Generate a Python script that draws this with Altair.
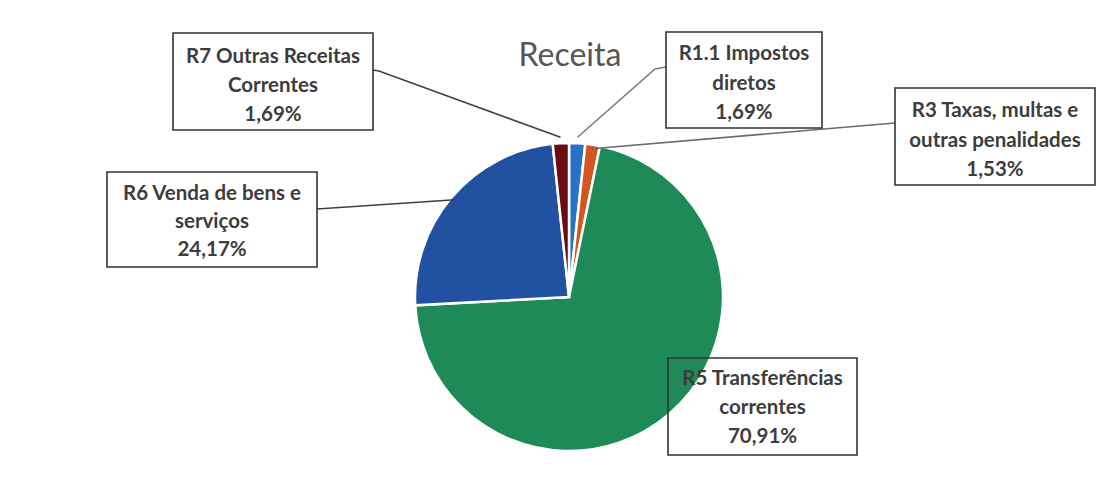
import altair as alt
import pandas as pd
import numpy as np

# ---------------- data ----------------
categories = [
    "R1.1 Impostos diretos",
    "R3 Taxas, multas e outras penalidades",
    "R5 Transferências correntes",
    "R6 Venda de bens e serviços",
    "R7 Outras Receitas Correntes",
]
values = [1.69, 1.53, 70.91, 24.17, 1.69]
label_lines = [
    ["R1.1 Impostos", "diretos"],
    ["R3 Taxas, multas e", "outras penalidades"],
    ["R5 Transferências", "correntes"],
    ["R6 Venda de bens e", "serviços"],
    ["R7 Outras Receitas", "Correntes"],
]
pct_labels = ["1,69%", "1,53%", "70,91%", "24,17%", "1,69%"]
colors = ["#2a72c6", "#d4561f", "#1d8a58", "#2152a2", "#6a0c12"]
title_text = "Receita"

# ---------------- layout (page pixel coordinates) ----------------
W, H = 1098, 485
OX, OY = 8, 8
PIE_CX, PIE_CY, PIE_R = 569, 297, 154
FONT = "Lato"
TXT_COLOR = "#3d3d3d"

# box: x0, y0, x1, y1 ; line centres ; leader start path ; leader end radius ; box fill opacity
layout = {
    categories[0]: dict(box=(666, 32, 822, 128), ly=(54, 84, 113), path=[(666, 67), (655, 69)], r=160, fo=1, lc="#7a7a7a"),
    categories[1]: dict(box=(895, 88, 1095, 185), ly=(111, 141, 170), path=[(895, 123)], r=150, fo=1, lc="#6a6a6a"),
    categories[2]: dict(box=(668, 358, 857, 455), ly=(379, 408, 437), path=[], r=0, fo=0, lc="#404040"),
    categories[3]: dict(box=(107, 172, 317, 267), ly=(194, 222, 250), path=[(317, 209)], r=150, fo=1, lc="#404040"),
    categories[4]: dict(box=(173, 33, 373, 130), ly=(57, 86, 115), path=[(373, 70), (379, 71)], r=160, fo=1, lc="#404040"),
}

# ---------------- tables ----------------
pie_df = pd.DataFrame({"category": categories, "value": values, "idx": range(len(categories))})

total = float(np.sum(values))
cum = np.cumsum(values)
mid = (cum - np.array(values) / 2.0) / total * 2 * np.pi

box_rows, text_rows, line_rows = [], [], []
for i, cat in enumerate(categories):
    L = layout[cat]
    x0, y0, x1, y1 = L["box"]
    box_rows.append(dict(category=cat, x0=x0, y0=y0, x1=x1, y1=y1, fo=L["fo"]))
    lines = label_lines[i] + [pct_labels[i]]
    for t, yy in zip(lines, L["ly"]):
        text_rows.append(dict(category=cat, t=t, x=(x0 + x1) / 2.0, y=yy))
    if L["path"]:
        pts = list(L["path"])
        ex = PIE_CX + L["r"] * np.sin(mid[i])
        ey = PIE_CY - L["r"] * np.cos(mid[i])
        pts.append((ex, ey))
        for k, (px, py) in enumerate(pts):
            line_rows.append(dict(category=cat, k=k, x=px, y=py, lc=L["lc"]))

box_df = pd.DataFrame(box_rows)
text_df = pd.DataFrame(text_rows)
line_df = pd.DataFrame(line_rows)

xs = alt.Scale(domain=[OX, OX + W], range=[0, W], nice=False, zero=False)
ys = alt.Scale(domain=[OY, OY + H], range=[0, H], nice=False, zero=False)

pie = alt.Chart(pie_df).mark_arc(radius=PIE_R, stroke="white", strokeWidth=2.5).encode(
    theta=alt.Theta("value:Q", stack=True),
    color=alt.Color("category:N", scale=alt.Scale(domain=categories, range=colors), legend=None),
    order=alt.Order("idx:Q"),
    x=alt.value(PIE_CX - OX),
    y=alt.value(PIE_CY - OY),
)

leaders = alt.Chart(line_df).mark_line(strokeWidth=1.6).encode(
    x=alt.X("x:Q", scale=xs, axis=None),
    y=alt.Y("y:Q", scale=ys, axis=None),
    detail="category:N",
    order="k:Q",
    color=alt.Color("lc:N", scale=None),
)

boxes = alt.Chart(box_df).mark_rect(fill="white", stroke="#333333", strokeWidth=1.6).encode(
    x=alt.X("x0:Q", scale=xs, axis=None),
    x2="x1:Q",
    y=alt.Y("y0:Q", scale=ys, axis=None),
    y2="y1:Q",
    fillOpacity=alt.FillOpacity("fo:Q", scale=None),
)

texts = alt.Chart(text_df).mark_text(
    font=FONT, fontSize=20.5, fontWeight="bold", color=TXT_COLOR, baseline="middle", align="center"
).encode(
    x=alt.X("x:Q", scale=xs, axis=None),
    y=alt.Y("y:Q", scale=ys, axis=None),
    text="t:N",
)

title = alt.Chart(pd.DataFrame({"t": [title_text]})).mark_text(
    font=FONT, fontSize=32, color="#555555", baseline="middle", align="center"
).encode(
    x=alt.value(570 - OX),
    y=alt.value(56 - OY),
    text="t:N",
)

chart = alt.layer(pie, leaders, boxes, texts, title).properties(
    width=W, height=H, autosize=alt.AutoSizeParams(type="none"), padding=0
).configure_view(stroke=None)

chart.save("out.html", embed_options={"renderer": "svg", "actions": False})
